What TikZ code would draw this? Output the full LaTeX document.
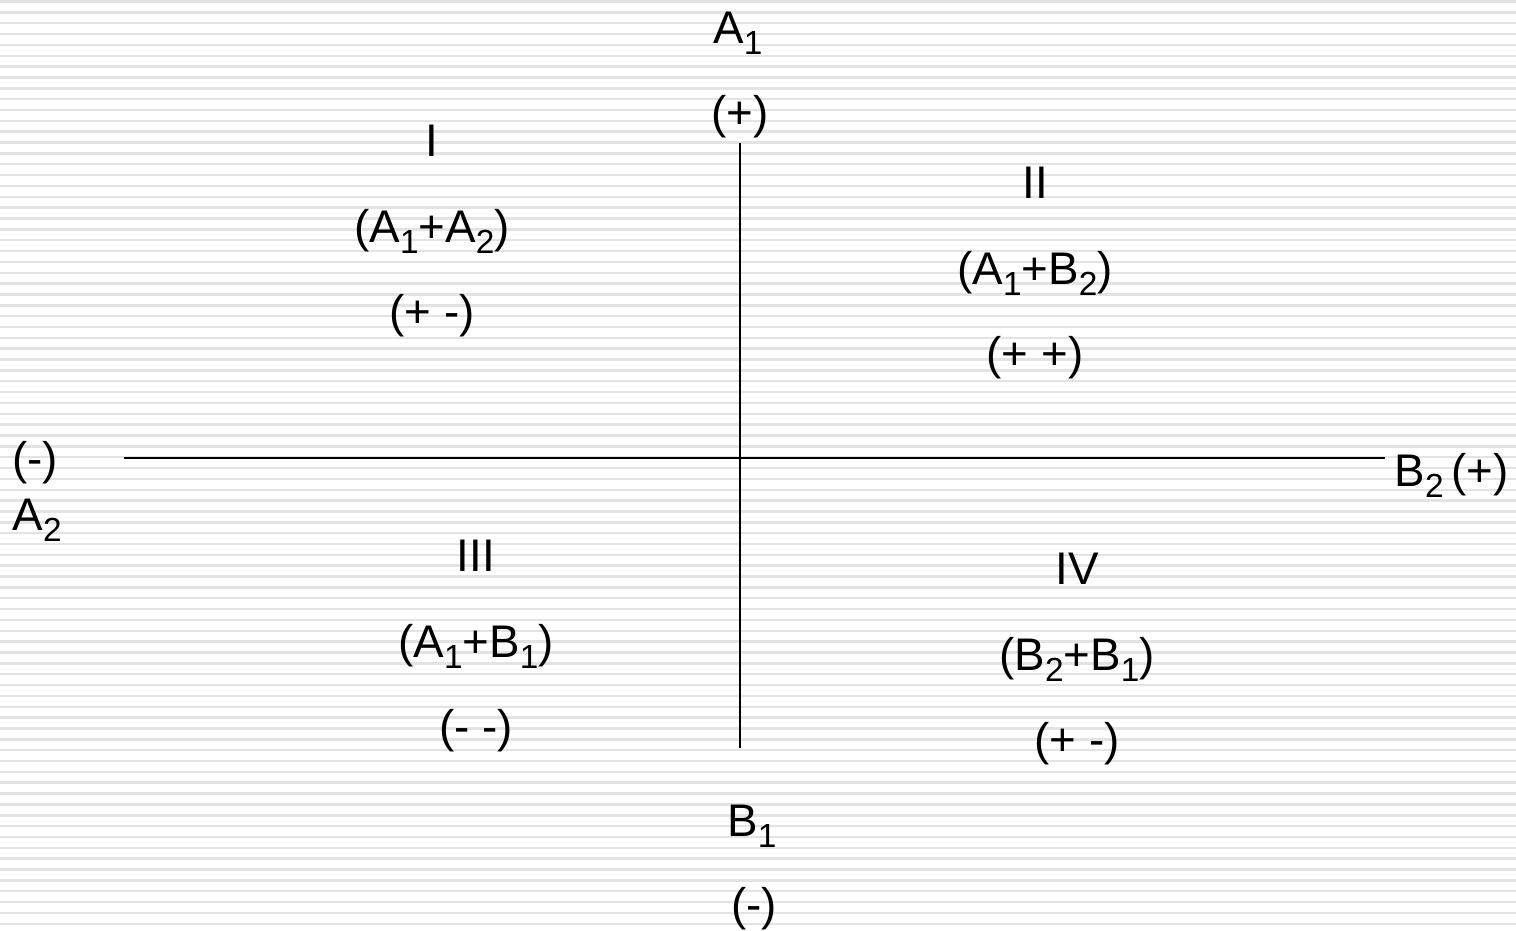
\documentclass[tikz,border=0pt]{standalone}
\usepackage{fontspec}
\setmainfont{Liberation Sans}
\usepackage{tikz}
\usetikzlibrary{calc, positioning}

\newcommand{\lo}[1]{\raisebox{-3.2pt}{\fontsize{9.5}{9.5}\selectfont #1}}

\tikzset{
    stripe/.style={line width=0.7pt, black!11},
    axis/.style={line width=0.6pt},
    lbl/.style={anchor=base, inner sep=0pt, font=\fontsize{13}{15}\selectfont}
}

\begin{document}
\begin{tikzpicture}[x=0.01cm, y=-0.01cm]
    \useasboundingbox (0,0) rectangle (1516,930);
    % Nền kẻ sọc
    \foreach \k in {0,...,85} {
        \draw[stripe] (0,{1.5+10.85*\k}) -- (1516,{1.5+10.85*\k});
    }

    % Hệ trục
    \coordinate (top) at (740,143);
    \coordinate (bot) at (740,748);
    \coordinate (lft) at (124,458);
    \coordinate (rgt) at (1385,458);
    \draw[axis] (top) -- (bot);
    \draw[axis] (lft) -- (rgt);

    % Nhãn các đầu trục
    \node[lbl] (a1) at (738,43) {A\lo{1}};
    \node[lbl] (a1s) at (740,128) {(+)};
    \node[lbl] (b1) at (752,836) {B\lo{1}};
    \node[lbl] (b1s) at (754,920) {(-)};
    \node[lbl] (a2s) at (35,474) {(-)};
    \node[lbl, anchor=base west] (a2) at (12,530) {A\lo{2}};
    \node[lbl, anchor=base west] (b2) at (1394,486) {B\lo{2}\,(+)};

    % Các góc phần tư
    \foreach \n/\x/\y/\num/\sm/\sg in {
        1/432/156/I/(A\lo{1}+A\lo{2})/(+ -),
        2/1035/198/II/(A\lo{1}+B\lo{2})/(+ +),
        3/476/571/III/(A\lo{1}+B\lo{1})/(- -),
        4/1077/584/IV/(B\lo{2}+B\lo{1})/(+ -)} {
        \node[lbl] (num\n) at (\x,\y) {\num};
        \node[lbl] (sum\n) at (\x,\y+86) {\sm};
        \node[lbl] (sgn\n) at (\x,\y+171) {\sg};
    }
\end{tikzpicture}
\end{document}
